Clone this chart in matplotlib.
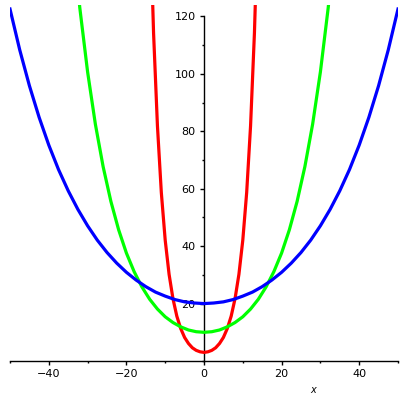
import numpy as np
import matplotlib
matplotlib.use("Agg")
import matplotlib.pyplot as plt
from matplotlib.ticker import MultipleLocator

# blue curve (widest)
x_blue = [-50, -47.5, -45, -42.5, -40, -37.5, -35, -32.5, -30, -27.5, -25, -22.5, -20,
          -17.5, -15, -12.5, -10, -7.5, -5, -2.5, 0, 2.5, 5, 7.5, 10, 12.5, 15, 17.5,
          20, 22.5, 25, 27.5, 30, 32.5, 35, 37.5, 40, 42.5, 45, 47.5, 50]
y_blue = [122.6, 108.4, 95.9, 84.9, 75.2, 66.7, 59.3, 52.8, 47.1, 42.1, 37.8, 34.1, 30.9,
          28.2, 25.9, 24.0, 22.6, 21.4, 20.6, 20.2, 20.0, 20.2, 20.6, 21.4, 22.6, 24.0, 25.9, 28.2,
          30.9, 34.1, 37.8, 42.1, 47.1, 52.8, 59.3, 66.7, 75.2, 84.9, 95.9, 108.4, 122.6]

# green curve
x_green = [-34, -32, -30, -28, -26, -24, -22, -20, -18, -16, -14, -12, -10, -8, -6, -4, -2,
           0, 2, 4, 6, 8, 10, 12, 14, 16, 18, 20, 22, 24, 26, 28, 30, 32, 34]
y_green = [150.0, 122.9, 100.7, 82.5, 67.7, 55.6, 45.7, 37.6, 31.1, 25.8, 21.5, 18.1, 15.4,
           13.4, 11.9, 10.8, 10.2, 10.0, 10.2, 10.8, 11.9, 13.4, 15.4, 18.1, 21.5, 25.8, 31.1,
           37.6, 45.7, 55.6, 67.7, 82.5, 100.7, 122.9, 150.0]

# red curve (narrowest)
x_red = [-14, -13, -12, -11, -10, -9, -8, -7, -6, -5, -4, -3, -2, -1,
         0, 1, 2, 3, 4, 5, 6, 7, 8, 9, 10, 11, 12, 13, 14]
y_red = [159.6, 114.3, 81.9, 58.7, 42.1, 30.2, 21.7, 15.6, 11.3, 8.2, 6.1, 4.6, 3.7, 3.2,
         3.0, 3.2, 3.7, 4.6, 6.1, 8.2, 11.3, 15.6, 21.7, 30.2, 42.1, 58.7, 81.9, 114.3, 159.6]

fig = plt.figure(figsize=(4.08, 4.0), dpi=100)
ax = fig.add_axes([10 / 408, 39 / 400, 388 / 408, 356 / 400])

ax.plot(x_red, y_red, color="#ff0000", lw=2.3, zorder=3)
ax.plot(x_green, y_green, color="#00ff00", lw=2.3, zorder=3)
ax.plot(x_blue, y_blue, color="#0000ff", lw=2.3, zorder=3)

ax.set_xlim(-50, 50)
ax.set_ylim(0, 124)

ax.spines["left"].set_position(("data", 0))
ax.spines["bottom"].set_position(("data", 0))
ax.spines["left"].set_bounds(0, 120)
ax.spines["top"].set_visible(False)
ax.spines["right"].set_visible(False)
for s in ("left", "bottom"):
    ax.spines[s].set_linewidth(1.0)
    ax.spines[s].set_zorder(2)

ax.set_xticks([-40, -20, 0, 20, 40])
ax.set_yticks([20, 40, 60, 80, 100, 120])
ax.xaxis.set_minor_locator(MultipleLocator(10))
ax.yaxis.set_minor_locator(MultipleLocator(10))
ax.tick_params(which="major", direction="out", length=3, width=1, labelsize=8, pad=3)
ax.tick_params(which="minor", direction="out", length=1.6, width=1)

ax.text(0.781, -0.082, "x", transform=ax.transAxes, fontsize=7, style="italic",
        ha="center", va="center")

fig.savefig("out.png", dpi=100)
